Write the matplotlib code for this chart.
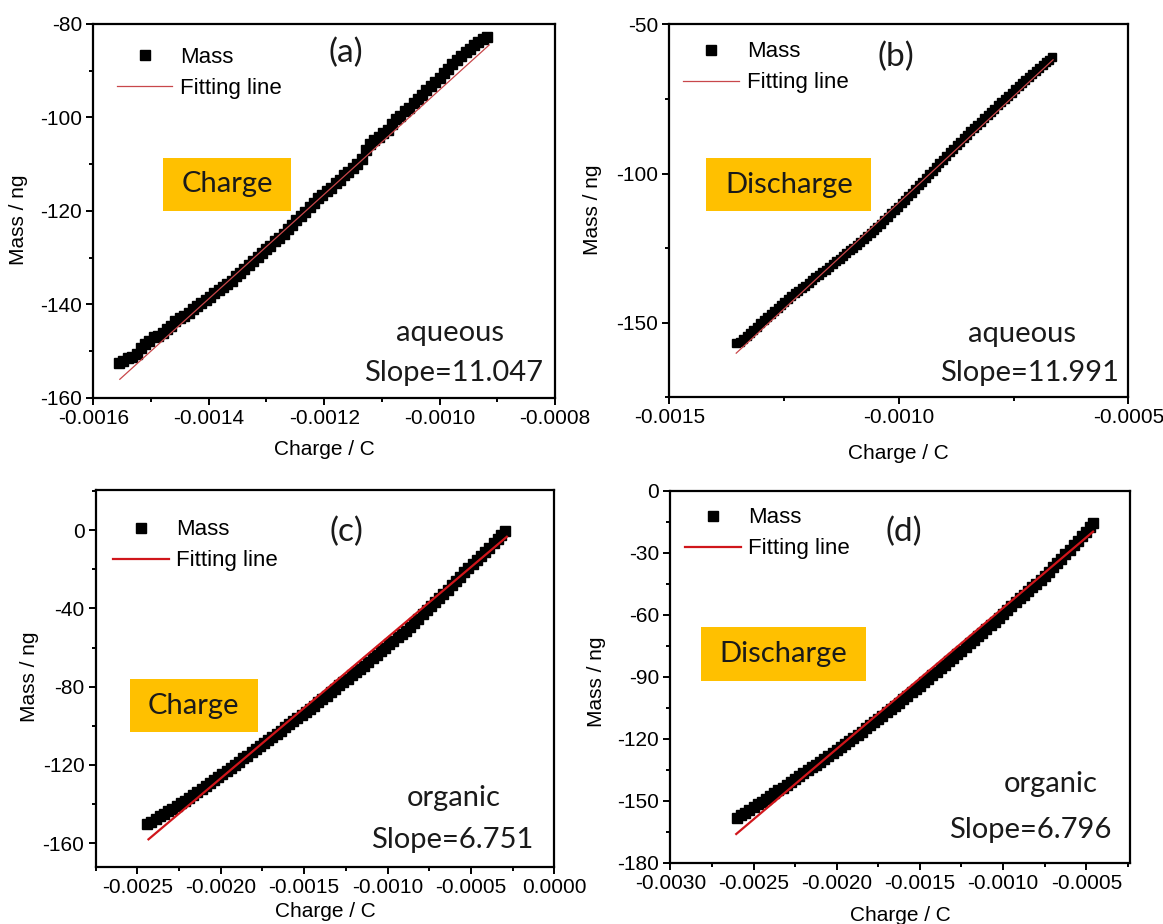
import matplotlib
matplotlib.use("Agg")
import matplotlib.pyplot as plt
from matplotlib.ticker import MultipleLocator, FormatStrFormatter
from matplotlib.patches import Rectangle

plt.rcParams['font.family'] = ['Liberation Sans', 'DejaVu Sans']
plt.rcParams['axes.unicode_minus'] = False

# (a) aqueous, charge  (charge in C, mass in ng)
a_x = [-0.001555, -0.001548, -0.001540, -0.001533, -0.001525, -0.001518, -0.001510, -0.001503, -0.001495, -0.001488,
       -0.001480, -0.001473, -0.001465, -0.001458, -0.001450, -0.001443, -0.001435, -0.001428, -0.001420, -0.001413,
       -0.001405, -0.001398, -0.001390, -0.001383, -0.001375, -0.001368, -0.001360, -0.001353, -0.001345, -0.001338,
       -0.001330, -0.001323, -0.001315, -0.001308, -0.001300, -0.001293, -0.001285, -0.001278, -0.001270, -0.001263,
       -0.001255, -0.001248, -0.001240, -0.001233, -0.001225, -0.001218, -0.001210, -0.001203, -0.001195, -0.001188,
       -0.001180, -0.001173, -0.001165, -0.001158, -0.001150, -0.001143, -0.001135, -0.001128, -0.001120, -0.001113,
       -0.001105, -0.001098, -0.001090, -0.001083, -0.001075, -0.001068, -0.001060, -0.001053, -0.001045, -0.001038,
       -0.001030, -0.001023, -0.001015, -0.001008, -0.001000, -0.000993, -0.000985, -0.000978, -0.000970, -0.000963,
       -0.000955, -0.000948, -0.000940, -0.000933, -0.000925, -0.000918]
a_y = [-152.6, -152.2, -151.5, -151.2, -150.6, -149.3, -148.4, -147.8, -147.0, -146.7,
       -146.1, -145.3, -144.6, -143.6, -142.9, -142.4, -141.8, -141.0, -140.3, -139.7,
       -139.0, -138.3, -137.6, -136.9, -136.2, -135.6, -134.9, -134.0, -133.2, -132.4,
       -131.6, -130.8, -129.9, -129.0, -128.2, -127.4, -126.5, -125.8, -124.9, -123.9,
       -123.0, -122.0, -121.1, -120.2, -119.1, -118.2, -117.3, -116.6, -115.8, -115.0,
       -114.1, -113.3, -112.4, -111.7, -110.9, -110.0, -108.9, -107.0, -105.6, -104.9,
       -104.1, -103.4, -102.6, -101.4, -100.4, -99.6, -98.7, -97.9, -97.0, -96.0,
       -95.1, -94.2, -93.3, -92.4, -91.5, -90.5, -89.6, -88.6, -87.7, -86.8,
       -86.0, -85.3, -84.6, -83.9, -83.3, -82.7]
a_fit_x = [-0.001554, -0.000914]
a_fit_y = [-156.0, -84.5]

# (b) aqueous, discharge
b_x = [-0.0013540, -0.0013465, -0.0013390, -0.0013315, -0.0013240, -0.0013165, -0.0013090, -0.0013015, -0.0012940, -0.0012865,
       -0.0012790, -0.0012715, -0.0012640, -0.0012565, -0.0012490, -0.0012415, -0.0012340, -0.0012265, -0.0012190, -0.0012115,
       -0.0012040, -0.0011965, -0.0011890, -0.0011815, -0.0011740, -0.0011665, -0.0011590, -0.0011515, -0.0011440, -0.0011365,
       -0.0011290, -0.0011215, -0.0011140, -0.0011065, -0.0010990, -0.0010915, -0.0010840, -0.0010765, -0.0010690, -0.0010615,
       -0.0010540, -0.0010465, -0.0010390, -0.0010315, -0.0010240, -0.0010165, -0.0010090, -0.0010015, -0.0009940, -0.0009865,
       -0.0009790, -0.0009715, -0.0009640, -0.0009565, -0.0009490, -0.0009415, -0.0009340, -0.0009265, -0.0009190, -0.0009115,
       -0.0009040, -0.0008965, -0.0008890, -0.0008815, -0.0008740, -0.0008665, -0.0008590, -0.0008515, -0.0008440, -0.0008365,
       -0.0008290, -0.0008215, -0.0008140, -0.0008065, -0.0007990, -0.0007915, -0.0007840, -0.0007765, -0.0007690, -0.0007615,
       -0.0007540, -0.0007465, -0.0007390, -0.0007315, -0.0007240, -0.0007165, -0.0007090, -0.0007015, -0.0006940, -0.0006865,
       -0.0006790, -0.0006725, -0.0006660]
b_y = [-156.9, -156.4, -155.6, -154.5, -153.5, -152.5, -151.4, -150.2, -149.2, -148.2,
       -147.2, -146.0, -145.0, -144.1, -143.1, -142.2, -141.2, -140.2, -139.4, -138.5,
       -137.6, -136.8, -135.8, -134.8, -134.0, -133.1, -132.2, -131.4, -130.4, -129.4,
       -128.5, -127.7, -126.7, -125.8, -124.9, -124.0, -123.0, -122.0, -121.1, -120.1,
       -119.0, -117.8, -116.8, -115.7, -114.6, -113.4, -112.3, -111.2, -110.0, -108.8,
       -107.7, -106.5, -105.2, -104.0, -102.8, -101.5, -100.3, -99.1, -97.9, -96.6,
       -95.4, -94.2, -92.9, -91.7, -90.5, -89.4, -88.2, -87.0, -85.9, -84.8,
       -83.7, -82.6, -81.5, -80.5, -79.4, -78.3, -77.2, -76.1, -75.1, -74.0,
       -72.9, -71.8, -70.7, -69.7, -68.6, -67.5, -66.5, -65.5, -64.6, -63.6,
       -62.7, -61.8, -60.9]
b_fit_x = [-0.001354, -0.000664]
b_fit_y = [-160.2, -61.9]

# (c) organic, charge
c_x = [-0.002440, -0.002415, -0.002390, -0.002365, -0.002340, -0.002315, -0.002290, -0.002265, -0.002240, -0.002215,
       -0.002190, -0.002165, -0.002140, -0.002115, -0.002090, -0.002065, -0.002040, -0.002015, -0.001990, -0.001965,
       -0.001940, -0.001915, -0.001890, -0.001865, -0.001840, -0.001815, -0.001790, -0.001765, -0.001740, -0.001715,
       -0.001690, -0.001665, -0.001640, -0.001615, -0.001590, -0.001565, -0.001540, -0.001515, -0.001490, -0.001465,
       -0.001440, -0.001415, -0.001390, -0.001365, -0.001340, -0.001315, -0.001290, -0.001265, -0.001240, -0.001215,
       -0.001190, -0.001165, -0.001140, -0.001115, -0.001090, -0.001065, -0.001040, -0.001015, -0.000990, -0.000965,
       -0.000940, -0.000915, -0.000890, -0.000865, -0.000840, -0.000815, -0.000790, -0.000765, -0.000740, -0.000715,
       -0.000690, -0.000665, -0.000640, -0.000615, -0.000590, -0.000565, -0.000540, -0.000515, -0.000490, -0.000465,
       -0.000440, -0.000415, -0.000390, -0.000365, -0.000340, -0.000318, -0.000296]
c_y = [-150.3, -149.0, -147.6, -146.3, -145.0, -143.6, -142.3, -141.0, -139.6, -138.2,
       -136.9, -135.3, -133.8, -132.2, -130.7, -129.1, -127.6, -126.0, -124.5, -122.9,
       -121.4, -119.8, -118.3, -116.7, -115.2, -113.6, -112.0, -110.4, -108.9, -107.2,
       -105.6, -104.0, -102.4, -100.8, -99.2, -97.6, -96.0, -94.4, -92.8, -91.2,
       -89.7, -88.0, -86.3, -84.6, -82.9, -81.1, -79.4, -77.7, -76.0, -74.2,
       -72.5, -70.9, -69.3, -67.4, -65.6, -63.8, -62.0, -60.2, -58.4, -56.6,
       -54.8, -53.1, -51.4, -49.3, -47.3, -45.2, -43.1, -41.0, -38.9, -36.8,
       -34.7, -32.5, -30.4, -28.2, -26.0, -23.8, -21.6, -19.5, -17.4, -15.3,
       -13.3, -11.1, -9.0, -6.8, -4.6, -2.4, -0.3]
c_fit_x = [-0.002433, -0.000285]
c_fit_y = [-158.0, -3.4]

# (d) organic, discharge
d_x = [-0.002600, -0.002575, -0.002550, -0.002525, -0.002500, -0.002475, -0.002450, -0.002425, -0.002400, -0.002375,
       -0.002350, -0.002325, -0.002300, -0.002275, -0.002250, -0.002225, -0.002200, -0.002175, -0.002150, -0.002125,
       -0.002100, -0.002075, -0.002050, -0.002025, -0.002000, -0.001975, -0.001950, -0.001925, -0.001900, -0.001875,
       -0.001850, -0.001825, -0.001800, -0.001775, -0.001750, -0.001725, -0.001700, -0.001675, -0.001650, -0.001625,
       -0.001600, -0.001575, -0.001550, -0.001525, -0.001500, -0.001475, -0.001450, -0.001425, -0.001400, -0.001375,
       -0.001350, -0.001325, -0.001300, -0.001275, -0.001250, -0.001225, -0.001200, -0.001175, -0.001150, -0.001125,
       -0.001100, -0.001075, -0.001050, -0.001025, -0.001000, -0.000975, -0.000950, -0.000925, -0.000900, -0.000875,
       -0.000850, -0.000825, -0.000800, -0.000775, -0.000750, -0.000725, -0.000700, -0.000675, -0.000650, -0.000625,
       -0.000600, -0.000575, -0.000550, -0.000525, -0.000500, -0.000480, -0.000460]
d_y = [-158.5, -157.1, -155.8, -154.4, -153.1, -151.7, -150.4, -149.0, -147.7, -146.3,
       -145.0, -143.6, -142.3, -140.9, -139.5, -138.1, -136.7, -135.3, -133.9, -132.5,
       -131.1, -129.7, -128.3, -126.8, -125.4, -123.9, -122.5, -121.0, -119.5, -118.0,
       -116.5, -115.0, -113.5, -111.9, -110.4, -108.8, -107.3, -105.7, -104.1, -102.5,
       -100.9, -99.2, -97.6, -95.9, -94.3, -92.6, -91.0, -89.3, -87.6, -85.9,
       -84.2, -82.5, -80.8, -79.1, -77.4, -75.6, -73.9, -72.1, -70.4, -68.6,
       -66.9, -65.1, -63.3, -61.4, -59.6, -57.7, -55.9, -54.0, -52.1, -50.4,
       -48.7, -46.8, -45.0, -43.1, -41.2, -39.2, -37.1, -35.0, -32.9, -30.7,
       -28.6, -26.4, -24.2, -22.0, -19.8, -17.6, -15.5]
d_fit_x = [-0.002604, -0.000459]
d_fit_y = [-166.1, -19.8]

tags = ['(a)', '(b)', '(c)', '(d)']
modes = ['Charge', 'Discharge', 'Charge', 'Discharge']
media = ['aqueous', 'aqueous', 'organic', 'organic']
slopes = ['Slope=11.047', 'Slope=11.991', 'Slope=6.751', 'Slope=6.796']

GOLD = '#FFC000'
NOTE_FONT = ['Lato', 'DejaVu Sans']

fig = plt.figure(figsize=(11.63, 9.24), dpi=100)

panels = [
    dict(rect=[0.0802, 0.5693, 0.3970, 0.4048], x=a_x, y=a_y, fx=a_fit_x, fy=a_fit_y,
         xlim=(-0.0016, -0.0008), ylim=(-160, -80), xmaj=0.0002, ymaj=20,
         fitc='#c8474a', fitw=0.9, ms=7.0,
         leg=(0.051, 0.939), tag=(0.547, 0.922), box=(0.151, 0.501, 0.278, 0.141),
         med=(0.773, 0.173), slo=(0.781, 0.066), xl=(0.5, -0.139), yl=(-0.162, 0.476)),
    dict(rect=[0.5754, 0.5700, 0.3948, 0.4037], x=b_x, y=b_y, fx=b_fit_x, fy=b_fit_y,
         xlim=(-0.0015, -0.0005), ylim=(-175, -50), xmaj=0.0005, ymaj=50,
         fitc='#c8474a', fitw=0.9, ms=6.2,
         leg=(0.031, 0.954), tag=(0.494, 0.913), box=(0.081, 0.500, 0.359, 0.141),
         med=(0.769, 0.171), slo=(0.785, 0.064), xl=(0.5, -0.150), yl=(-0.166, 0.502)),
    dict(rect=[0.0822, 0.0620, 0.3945, 0.4077], x=c_x, y=c_y, fx=c_fit_x, fy=c_fit_y,
         xlim=(-0.00275, 0.0), ylim=(-172, 20.5), xmaj=0.0005, ymaj=40,
         fitc='#d0161b', fitw=1.6, ms=6.5,
         leg=(0.038, 0.922), tag=(0.546, 0.889), box=(0.074, 0.358, 0.279, 0.139),
         med=(0.781, 0.182), slo=(0.777, 0.071), xl=(0.5, -0.119), yl=(-0.144, 0.504)),
    dict(rect=[0.5764, 0.0663, 0.3948, 0.4026], x=d_x, y=d_y, fx=d_fit_x, fy=d_fit_y,
         xlim=(-0.0030, -0.00024), ylim=(-180, 0), xmaj=0.0005, ymaj=30,
         fitc='#d0161b', fitw=1.6, ms=6.5,
         leg=(0.032, 0.955), tag=(0.508, 0.890), box=(0.066, 0.489, 0.361, 0.145),
         med=(0.828, 0.213), slo=(0.783, 0.088), xl=(0.5, -0.141), yl=(-0.160, 0.487)),
]

for i, p in enumerate(panels):
    ax = fig.add_axes(p['rect'])
    ax.plot(p['x'], p['y'], linestyle='none', marker='s', ms=p['ms'], color='black',
            label='Mass', zorder=3)
    ax.plot(p['fx'], p['fy'], color=p['fitc'], lw=p['fitw'], label='Fitting line', zorder=4)
    ax.set_xlim(p['xlim'])
    ax.set_ylim(p['ylim'])

    ax.xaxis.set_major_locator(MultipleLocator(p['xmaj']))
    ax.xaxis.set_minor_locator(MultipleLocator(p['xmaj'] / 2))
    ax.yaxis.set_major_locator(MultipleLocator(p['ymaj']))
    ax.yaxis.set_minor_locator(MultipleLocator(p['ymaj'] / 2))
    ax.xaxis.set_major_formatter(FormatStrFormatter('%.4f'))
    ax.yaxis.set_major_formatter(FormatStrFormatter('%d'))
    ax.tick_params(which='both', direction='out', top=False, right=False, width=1.4,
                   labelsize=15, colors='black')
    ax.tick_params(which='major', length=5, pad=3)
    ax.tick_params(which='minor', length=3)
    for s in ax.spines.values():
        s.set_linewidth(1.6)

    ax.set_xlabel('Charge / C', fontsize=15)
    ax.set_ylabel('Mass / ng', fontsize=15)
    ax.xaxis.set_label_coords(*p['xl'])
    ax.xaxis.label.set_verticalalignment('center')
    ax.yaxis.set_label_coords(*p['yl'])
    ax.yaxis.label.set_verticalalignment('center')

    leg = ax.legend(loc='upper left', bbox_to_anchor=p['leg'], frameon=False, fontsize=16,
                    handlelength=2.5, handletextpad=0.35, labelspacing=0.45,
                    borderpad=0, borderaxespad=0)
    leg.legend_handles[0].set_markersize(7.4)

    bx, by, bw, bh = p['box']
    ax.add_patch(Rectangle((bx, by), bw, bh, transform=ax.transAxes, facecolor=GOLD,
                           edgecolor='none', zorder=1))
    ax.text(bx + bw / 2, by + bh / 2, modes[i], transform=ax.transAxes, ha='center',
            va='center', fontsize=21, family=NOTE_FONT, color='#1a1a1a', zorder=2)
    ax.text(*p['tag'], tags[i], transform=ax.transAxes, ha='center', va='center',
            fontsize=24, family=NOTE_FONT, color='#1a1a1a')
    ax.text(*p['med'], media[i], transform=ax.transAxes, ha='center', va='center',
            fontsize=21, family=NOTE_FONT, color='#1a1a1a')
    ax.text(*p['slo'], slopes[i], transform=ax.transAxes, ha='center', va='center',
            fontsize=21, family=NOTE_FONT, color='#1a1a1a')

fig.savefig('out.png', dpi=100)
